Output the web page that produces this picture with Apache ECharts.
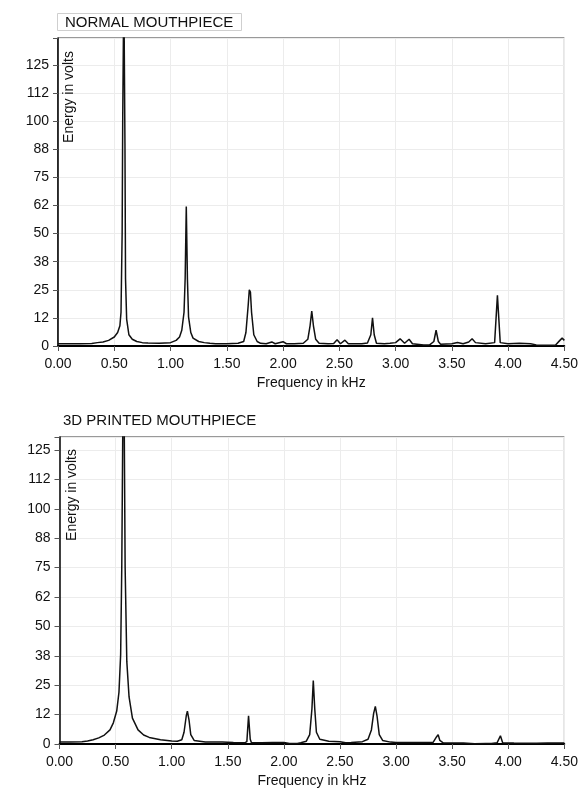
<!DOCTYPE html>
<html>
<head>
<meta charset="utf-8">
<script src="https://cdn.jsdelivr.net/npm/echarts@6/dist/echarts.min.js"></script>
<style>
  body { margin: 0; background: #fff; }
  #spec { width: 581px; height: 790px; }
</style>
</head>
<body>
<div id="spec"></div>
<script>
// tick labels as printed on the original plots
var xTickLabels = ['0.00', '0.50', '1.00', '1.50', '2.00', '2.50', '3.00', '3.50', '4.00', '4.50'];
var yTickLabels = ['0', '12', '25', '38', '50', '62', '75', '88', '100', '112', '125'];

// normal mouthpiece spectrum (kHz, volts)
var freqNormal = [0.00, 0.10, 0.20, 0.30, 0.35, 0.40, 0.45, 0.50, 0.53, 0.55, 0.56, 0.57, 0.575, 0.585, 0.595, 0.60, 0.61, 0.63, 0.66, 0.70,
  0.75, 0.80, 0.90, 1.00, 1.05, 1.08, 1.10, 1.12, 1.13, 1.14, 1.15, 1.16, 1.18, 1.20, 1.25, 1.30, 1.35, 1.40, 1.50, 1.60,
  1.65, 1.67, 1.69, 1.70, 1.71, 1.72, 1.74, 1.77, 1.80, 1.85, 1.90, 1.93, 2.00, 2.03, 2.10, 2.18, 2.22, 2.24, 2.255, 2.27,
  2.29, 2.32, 2.40, 2.45, 2.48, 2.51, 2.55, 2.58, 2.70, 2.75, 2.78, 2.795, 2.81, 2.83, 2.90, 2.95, 3.00, 3.04, 3.08, 3.12,
  3.15, 3.25, 3.30, 3.34, 3.36, 3.38, 3.40, 3.50, 3.55, 3.60, 3.65, 3.68, 3.71, 3.80, 3.88, 3.905, 3.93, 4.00, 4.10, 4.20,
  4.25, 4.35, 4.42, 4.46, 4.48, 4.50];
var voltNormal = [1.0, 1.0, 1.0, 1.1, 1.5, 1.8, 2.5, 4, 6, 9, 15, 50, 100, 160, 90, 30, 12, 5, 3, 2,
  1.5, 1.3, 1.2, 1.5, 2.5, 4, 7, 15, 30, 62, 30, 13, 6, 3.5, 2, 1.5, 1.2, 1.0, 1.0, 1.2,
  2, 6, 18, 25, 24, 15, 5, 2, 1.2, 1.0, 1.8, 1.0, 1.9, 1.0, 1.0, 1.2, 3, 9, 15.5, 9,
  3, 1.2, 1.0, 1.1, 2.8, 1.0, 2.6, 1.0, 1.0, 1.3, 5, 12.5, 5, 1.2, 1.0, 1.2, 1.5, 3.2, 1.2, 3.0,
  1.0, 0.4, 0.4, 2, 7, 2, 0.8, 1.0, 1.6, 1.0, 1.8, 3.2, 1.5, 1.0, 1.5, 22.5, 1.5, 1.0, 1.2, 1.0,
  0.5, 0.3, 0.3, 2.5, 3.5, 2.5];

// 3D printed mouthpiece spectrum (kHz, volts)
var freqPrinted = [0.00, 0.10, 0.20, 0.25, 0.30, 0.35, 0.40, 0.45, 0.48, 0.51, 0.53, 0.545, 0.555, 0.565, 0.575, 0.585, 0.60, 0.62, 0.65, 0.70,
  0.75, 0.80, 0.90, 1.00, 1.05, 1.09, 1.11, 1.13, 1.14, 1.155, 1.17, 1.20, 1.30, 1.45, 1.55, 1.65, 1.67, 1.685, 1.70, 1.71,
  1.80, 1.90, 2.00, 2.05, 2.12, 2.15, 2.20, 2.23, 2.25, 2.262, 2.275, 2.29, 2.32, 2.40, 2.50, 2.55, 2.60, 2.70, 2.75, 2.78,
  2.80, 2.815, 2.83, 2.85, 2.88, 2.95, 3.00, 3.20, 3.33, 3.36, 3.375, 3.39, 3.42, 3.60, 3.70, 3.80, 3.85, 3.90, 3.93, 3.95,
  4.05, 4.25, 4.35, 4.50];
var voltPrinted = [0.8, 0.8, 1.0, 1.3, 1.8, 2.6, 3.8, 6, 9, 14, 22, 38, 75, 140, 150, 75, 35, 20, 11, 6,
  3.8, 2.8, 1.8, 1.3, 1.2, 1.8, 5, 12, 14, 10, 4, 1.5, 0.9, 0.8, 0.6, 0.5, 1, 12, 2, 0.6,
  0.5, 0.6, 0.6, 0.2, 0.2, 0.5, 1.2, 4, 15, 27, 15, 5, 2, 1.2, 1.0, 0.5, 0.6, 1.0, 2, 6,
  13, 16, 12, 4, 1.5, 0.8, 0.6, 0.6, 0.7, 3, 4, 1.5, 0.5, 0.4, 0.1, 0.2, 0.2, 0.5, 3.5, 0.5,
  0.4, 0.3, 0.4, 0.4];

var font = 'Liberation Sans, Arial, sans-serif';

function pairs(xs, ys) {
  return xs.map(function (x, i) { return [x, ys[i]]; });
}

function xAxisFor(idx) {
  return {
    gridIndex: idx,
    type: 'value',
    min: 0,
    max: 4.5,
    interval: 0.5,
    name: 'Frequency in kHz',
    nameLocation: 'middle',
    nameGap: 30,
    nameTextStyle: { fontFamily: font, fontSize: 14, color: '#111' },
    axisLine: { lineStyle: { color: '#000', width: 1.8 } },
    axisTick: { length: 5, lineStyle: { color: '#555' } },
    axisLabel: {
      fontFamily: font, fontSize: 14, color: '#111', margin: 11,
      formatter: function (v) { return xTickLabels[Math.round(v / 0.5)]; }
    },
    splitLine: { lineStyle: { color: '#ececec' } }
  };
}

function yAxisFor(idx, top) {
  return {
    gridIndex: idx,
    type: 'value',
    min: 0,
    max: top,
    interval: 12.5,
    axisLine: { show: true, lineStyle: { color: '#000', width: 1.5 } },
    axisTick: { show: true, length: 5, lineStyle: { color: '#555' } },
    axisLabel: {
      fontFamily: font, fontSize: 14, color: '#111', margin: 9,
      formatter: function (v) {
        var k = v / 12.5;
        return (Math.abs(k - Math.round(k)) < 1e-6 && yTickLabels[k] !== undefined) ? yTickLabels[k] : '';
      }
    },
    splitLine: { lineStyle: { color: '#ececec' } }
  };
}

var chart = echarts.init(document.getElementById('spec'));
var option = {
  animation: false,
  title: [
    {
      text: 'NORMAL MOUTHPIECE', left: 57, top: 13,
      padding: [2, 8, 1, 8], borderColor: '#cfcfcf', borderWidth: 1,
      textStyle: { fontFamily: font, fontSize: 15, fontWeight: 'normal', color: '#111' }
    },
    {
      text: '3D PRINTED MOUTHPIECE', left: 55, top: 411,
      padding: [2, 8, 1, 8],
      textStyle: { fontFamily: font, fontSize: 15, fontWeight: 'normal', color: '#111' }
    }
  ],
  grid: [
    { left: 58, top: 38, width: 510, height: 308, show: true, borderColor: '#333', borderWidth: 1 },
    { left: 59.5, top: 437, width: 507, height: 307, show: true, borderColor: '#333', borderWidth: 1 }
  ],
  xAxis: [xAxisFor(0), xAxisFor(1)],
  yAxis: [yAxisFor(0, 137), yAxisFor(1, 130.5)],
  graphic: [
    {
      type: 'text', x: 69, y: 97, rotation: Math.PI / 2, z: 100,
      style: { text: 'Energy in volts', fontFamily: font, fontSize: 14, fill: '#111', align: 'center', verticalAlign: 'middle' }
    },
    {
      type: 'text', x: 72, y: 495, rotation: Math.PI / 2, z: 100,
      style: { text: 'Energy in volts', fontFamily: font, fontSize: 14, fill: '#111', align: 'center', verticalAlign: 'middle' }
    }
  ],
  series: [
    {
      type: 'line', xAxisIndex: 0, yAxisIndex: 0,
      data: pairs(freqNormal, voltNormal),
      showSymbol: false, smooth: false,
      lineStyle: { color: '#111', width: 1.5 }
    },
    {
      type: 'line', xAxisIndex: 1, yAxisIndex: 1,
      data: pairs(freqPrinted, voltPrinted),
      showSymbol: false, smooth: false,
      lineStyle: { color: '#111', width: 1.5 }
    }
  ]
};
chart.setOption(option);
window.addEventListener('resize', function () {
  chart.resize();
});
</script>
</body>
</html>
